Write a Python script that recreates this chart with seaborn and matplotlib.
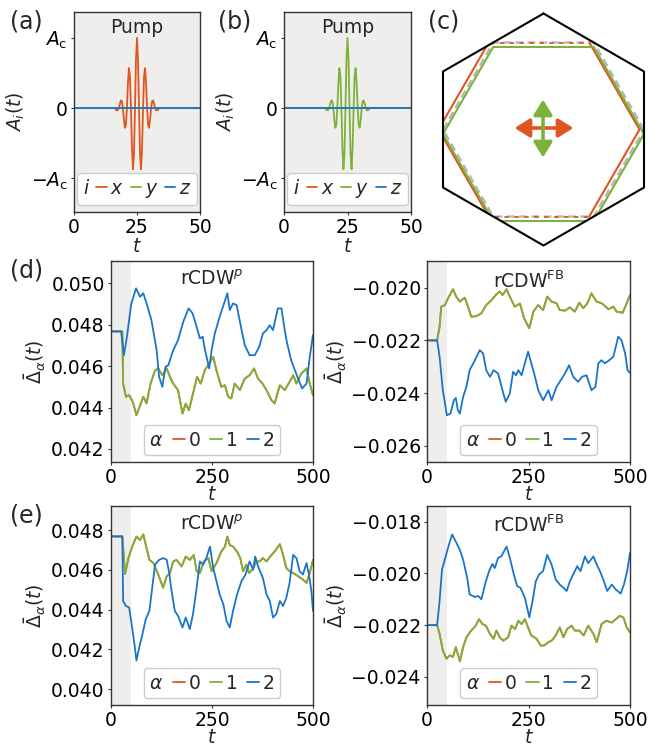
import numpy as np
import pandas as pd
import seaborn as sns
import matplotlib
matplotlib.use("Agg")
import matplotlib.pyplot as plt
from matplotlib.lines import Line2D
from matplotlib.patches import Polygon, FancyArrowPatch
from matplotlib.ticker import FuncFormatter

# ---------------- data ----------------
pump_t = [0, 16.2, 16.6, 17.0, 17.4, 17.8, 18.2, 18.6, 19.0, 19.4, 19.8, 20.2, 20.6, 21.0, 21.4,
          21.8, 22.2, 22.6, 23.0, 23.4, 23.8, 24.2, 24.6, 25.0, 25.4, 25.8, 26.2, 26.6, 27.0,
          27.4, 27.8, 28.2, 28.6, 29.0, 29.4, 29.8, 30.2, 30.6, 31.0, 31.4, 31.8, 32.2, 32.6,
          33.0, 33.4, 33.8, 50]
pump_v = [0, 0, -0.02, -0.03, -0.03, 0, 0.06, 0.11, 0.10, 0, -0.16, -0.28, -0.24, 0, 0.35,
          0.57, 0.46, 0, -0.57, -0.87, -0.65, 0, 0.70, 1.00, 0.70, 0, -0.65, -0.87, -0.57, 0,
          0.46, 0.57, 0.35, 0, -0.24, -0.28, -0.16, 0, 0.10, 0.11, 0.06, 0, -0.03, -0.03,
          -0.02, 0, 0]
zero_t = [0, 50]
zero_v = [0, 0]

# row (d), rCDW^p
dp_t_01 = [0, 28, 30, 37, 45, 54, 63, 72, 80, 88, 98, 109, 117, 127, 138, 146, 154, 166, 177, 185,
           193, 203, 213, 222, 232, 243, 253, 261, 273, 282, 290, 298, 306, 319, 331, 343, 354, 364,
           375, 385, 397, 405, 418, 430, 442, 451, 459, 471, 484, 492, 500]
dp_v_01 = [0.04768, 0.04768, 0.04516, 0.04452, 0.04460, 0.04427, 0.04363, 0.04411, 0.04452, 0.04420,
           0.04516, 0.04580, 0.04589, 0.04556, 0.04589, 0.04548, 0.04516, 0.04484, 0.04371, 0.04419,
           0.04387, 0.04468, 0.04548, 0.04516, 0.04580, 0.04613, 0.04645, 0.04580, 0.04500, 0.04508,
           0.04452, 0.04444, 0.04516, 0.04484, 0.04540, 0.04556, 0.04589, 0.04540, 0.04516, 0.04484,
           0.04436, 0.04420, 0.04508, 0.04484, 0.04524, 0.04556, 0.04516, 0.04564, 0.04589, 0.04516,
           0.04460]
dp_t_2 = [0, 25, 32, 40, 50, 62, 72, 80, 88, 100, 113, 119, 127, 135, 142, 154, 166, 179, 192, 202,
          212, 220, 227, 232, 243, 249, 257, 269, 288, 294, 302, 311, 320, 331, 343, 356, 367, 376,
          385, 393, 401, 413, 422, 430, 436, 446, 461, 473, 484, 492, 500]
dp_v_2 = [0.04768, 0.04768, 0.04653, 0.04750, 0.04900, 0.04976, 0.04935, 0.04952, 0.04903, 0.04823,
          0.04677, 0.04550, 0.04500, 0.04597, 0.04605, 0.04677, 0.04726, 0.04815, 0.04879, 0.04855,
          0.04790, 0.04734, 0.04742, 0.04685, 0.04589, 0.04677, 0.04758, 0.04839, 0.04952, 0.04871,
          0.04903, 0.04895, 0.04806, 0.04702, 0.04653, 0.04653, 0.04694, 0.04758, 0.04774, 0.04798,
          0.04774, 0.04879, 0.04879, 0.04774, 0.04710, 0.04629, 0.04550, 0.04492, 0.04516, 0.04645,
          0.04750]

# row (d), rCDW^FB
dfb_t_01 = [0, 25, 31, 35, 44, 52, 64, 72, 81, 93, 101, 109, 122, 134, 146, 159, 171, 179, 186, 196,
            204, 216, 229, 239, 252, 262, 274, 286, 296, 307, 319, 327, 340, 352, 364, 375, 385, 395,
            405, 418, 430, 447, 459, 467, 482, 492, 500]
dfb_v_01 = [-0.02200, -0.02200, -0.02148, -0.02072, -0.02066, -0.02040, -0.02006, -0.02034, -0.02053,
            -0.02038, -0.02072, -0.02110, -0.02108, -0.02097, -0.02066, -0.02047, -0.02025, -0.02015,
            -0.02028, -0.02006, -0.02034, -0.02072, -0.02060, -0.02116, -0.02154, -0.02091, -0.02066,
            -0.02085, -0.02034, -0.02053, -0.02059, -0.02085, -0.02087, -0.02075, -0.02091, -0.02057,
            -0.02078, -0.02059, -0.02022, -0.02053, -0.02059, -0.02082, -0.02072, -0.02091, -0.02095,
            -0.02059, -0.02028]
dfb_t_2 = [0, 25, 31, 39, 49, 58, 66, 71, 76, 81, 89, 97, 105, 118, 130, 138, 146, 155, 164, 175,
           188, 194, 204, 212, 219, 225, 233, 241, 249, 257, 266, 274, 286, 299, 307, 319, 327, 340,
           350, 360, 372, 382, 393, 405, 415, 422, 430, 438, 449, 459, 471, 479, 488, 494, 500]
dfb_v_2 = [-0.02200, -0.02200, -0.02262, -0.02389, -0.02484, -0.02477, -0.02427, -0.02418, -0.02465,
           -0.02477, -0.02414, -0.02376, -0.02313, -0.02275, -0.02237, -0.02249, -0.02313, -0.02338,
           -0.02313, -0.02325, -0.02401, -0.02433, -0.02401, -0.02319, -0.02332, -0.02313, -0.02332,
           -0.02287, -0.02243, -0.02287, -0.02338, -0.02389, -0.02427, -0.02389, -0.02427, -0.02376,
           -0.02357, -0.02325, -0.02294, -0.02338, -0.02357, -0.02338, -0.02332, -0.02389, -0.02376,
           -0.02287, -0.02275, -0.02287, -0.02275, -0.02262, -0.02186, -0.02199, -0.02249, -0.02313,
           -0.02323]

# row (e), rCDW^p
ep_t_01 = [0, 28, 35, 43, 54, 63, 72, 80, 88, 95, 105, 117, 129, 138, 146, 154, 162, 175, 185, 195,
           205, 212, 220, 230, 241, 249, 261, 273, 282, 288, 294, 302, 312, 320, 327, 335, 342, 350,
           360, 368, 376, 385, 394, 405, 418, 426, 434, 442, 451, 463, 475, 484, 492, 500]
ep_v_01 = [0.04768, 0.04768, 0.04579, 0.04659, 0.04725, 0.04767, 0.04750, 0.04778, 0.04709, 0.04651,
           0.04634, 0.04576, 0.04510, 0.04568, 0.04584, 0.04642, 0.04650, 0.04617, 0.04667, 0.04650,
           0.04675, 0.04593, 0.04584, 0.04642, 0.04659, 0.04593, 0.04634, 0.04692, 0.04717, 0.04767,
           0.04725, 0.04717, 0.04692, 0.04659, 0.04593, 0.04626, 0.04584, 0.04601, 0.04642, 0.04642,
           0.04659, 0.04642, 0.04667, 0.04692, 0.04729, 0.04675, 0.04609, 0.04593, 0.04584, 0.04568,
           0.04551, 0.04534, 0.04584, 0.04650]
ep_t_2 = [0, 28, 30, 37, 45, 51, 58, 63, 70, 78, 86, 95, 103, 109, 119, 129, 138, 144, 150, 158,
          166, 177, 185, 195, 203, 212, 220, 228, 236, 245, 253, 261, 269, 278, 286, 294, 302, 312,
          323, 333, 343, 352, 357, 364, 376, 385, 393, 401, 409, 418, 426, 434, 442, 451, 459, 467,
          475, 484, 490, 496, 500]
ep_v_2 = [0.04768, 0.04768, 0.04443, 0.04418, 0.04410, 0.04327, 0.04227, 0.04144, 0.04211, 0.04277,
          0.04352, 0.04393, 0.04526, 0.04626, 0.04650, 0.04659, 0.04650, 0.04584, 0.04493, 0.04393,
          0.04368, 0.04310, 0.04360, 0.04302, 0.04377, 0.04510, 0.04642, 0.04626, 0.04659, 0.04717,
          0.04609, 0.04543, 0.04476, 0.04427, 0.04343, 0.04310, 0.04393, 0.04476, 0.04543, 0.04576,
          0.04642, 0.04601, 0.04667, 0.04617, 0.04559, 0.04476, 0.04443, 0.04360, 0.04377, 0.04443,
          0.04418, 0.04460, 0.04534, 0.04675, 0.04659, 0.04593, 0.04576, 0.04634, 0.04576, 0.04493,
          0.04393]

# row (e), rCDW^FB
efb_t_01 = [0, 25, 31, 39, 48, 56, 64, 71, 81, 89, 97, 109, 120, 128, 137, 145, 155, 164, 171, 179,
            188, 200, 208, 217, 225, 233, 241, 249, 257, 270, 280, 288, 299, 307, 317, 327, 336, 345,
            356, 364, 375, 386, 397, 410, 418, 430, 442, 455, 465, 475, 484, 492, 500]
efb_v_01 = [-0.02200, -0.02200, -0.02234, -0.02298, -0.02330, -0.02317, -0.02323, -0.02285, -0.02340,
            -0.02285, -0.02247, -0.02221, -0.02202, -0.02177, -0.02196, -0.02202, -0.02234, -0.02253,
            -0.02221, -0.02247, -0.02260, -0.02247, -0.02202, -0.02215, -0.02183, -0.02196, -0.02177,
            -0.02209, -0.02240, -0.02253, -0.02279, -0.02279, -0.02266, -0.02260, -0.02240, -0.02209,
            -0.02247, -0.02215, -0.02202, -0.02221, -0.02221, -0.02240, -0.02202, -0.02234, -0.02266,
            -0.02196, -0.02183, -0.02190, -0.02177, -0.02164, -0.02171, -0.02209, -0.02228]
efb_t_2 = [0, 25, 31, 37, 46, 54, 62, 71, 81, 89, 99, 105, 118, 126, 134, 145, 153, 161, 167, 175,
           183, 196, 204, 214, 222, 230, 241, 252, 260, 268, 276, 286, 296, 307, 317, 327, 336, 344,
           352, 360, 370, 378, 389, 397, 410, 418, 426, 434, 444, 455, 465, 477, 485, 493, 500]
efb_v_2 = [-0.02200, -0.02200, -0.02106, -0.01985, -0.01934, -0.01889, -0.01849, -0.01877, -0.01909,
           -0.01947, -0.02017, -0.02081, -0.02091, -0.02087, -0.02100, -0.02030, -0.01991, -0.01963,
           -0.01979, -0.01940, -0.01934, -0.01896, -0.01940, -0.02004, -0.02049, -0.02055, -0.02094,
           -0.02170, -0.02106, -0.02030, -0.02004, -0.01991, -0.01928, -0.01966, -0.02023, -0.02043,
           -0.02055, -0.02068, -0.02030, -0.02004, -0.01972, -0.01991, -0.01934, -0.01960, -0.01934,
           -0.01966, -0.01991, -0.02023, -0.02068, -0.02043, -0.02062, -0.02078, -0.02043, -0.01991,
           -0.01921]

# hexagons for panel (c) (units of 100 px about BZ centre)
bz_x = [0, 1.005, 1.005, 0, -1.005, -1.005, 0]
bz_y = [1.16, 0.58, -0.58, -1.16, -0.58, 0.58, 1.16]
fs0_x = [1.005, 0.5025, -0.5025, -1.005, -0.5025, 0.5025, 1.005]
fs0_y = [0, 0.87, 0.87, 0, -0.87, -0.87, 0]
fsx_x = [0.96, 0.4575, -0.5475, -1.05, -0.5475, 0.4575, 0.96]
fsx_y = [0, 0.87, 0.87, 0, -0.87, -0.87, 0]
fsy_x = [1.005, 0.5025, -0.5025, -1.005, -0.5025, 0.5025, 1.005]
fsy_y = [-0.045, 0.825, 0.825, -0.045, -0.915, -0.915, -0.045]

pump_labels = ['$x$', '$y$', '$z$']
alpha_labels = ['0', '1', '2']
t_ticks_pump = [0, 25, 50]
t_ticks = [0, 250, 500]
yt_dp = [0.042, 0.044, 0.046, 0.048, 0.050]
yt_dfb = [-0.026, -0.024, -0.022, -0.020]
yt_ep = [0.040, 0.042, 0.044, 0.046, 0.048]
yt_efb = [-0.024, -0.022, -0.020, -0.018]

# ---------------- style ----------------
sns.set_style("ticks")
ORANGE = '#df5720'
GREEN = '#7cb23b'
BLUE = '#1a75c9'
SHADE = '#f0eded'
FS = 13.5
plt.rcParams['font.family'] = ['DejaVu Sans']
plt.rcParams.update({
    'axes.edgecolor': '#333333', 'axes.linewidth': 1.0,
    'xtick.color': '#333333', 'ytick.color': '#333333',
    'xtick.labelcolor': 'black', 'ytick.labelcolor': 'black',
    'xtick.major.size': 2.5, 'ytick.major.size': 2.5,
    'xtick.major.pad': 1.5, 'ytick.major.pad': 2.0,
    'mathtext.fontset': 'dejavusans',
})

W, H = 659, 748
fig = plt.figure(figsize=(W / 100, H / 100), dpi=100)


def box(l, t, r, b):
    return [l / W, 1 - b / H, (r - l) / W, (b - t) / H]


def line(ax, t, v, color):
    sns.lineplot(x=t, y=v, ax=ax, color=color, linewidth=1.3, estimator=None, errorbar=None)


def inline_legend(ax, title, labels, colors, hl, cs):
    handles = [Line2D([], [], color=c, lw=1.3) for c in colors]
    leg = ax.legend(handles, labels, title=title, ncol=len(labels), loc='lower center',
                    fontsize=FS, title_fontsize=FS, handlelength=hl, handletextpad=0.2,
                    columnspacing=cs, borderpad=0.3, borderaxespad=0.35, framealpha=1,
                    edgecolor='#cccccc')
    vp = leg._legend_box
    title_box, hbox = vp.get_children()
    vp._children = [hbox]
    hbox._children = [title_box] + hbox.get_children()
    return leg


umin = FuncFormatter(lambda v, p: ('%.3f' % v).replace('-', '\u2212'))

# ---------------- panels (a), (b) ----------------
for pos, lab in [(box(74, 12, 200, 212), 'x'), (box(284, 12, 411, 212), 'y')]:
    ax = fig.add_axes(pos)
    ax.set_facecolor(SHADE)
    if lab == 'x':
        line(ax, pump_t, pump_v, ORANGE)
        line(ax, zero_t, zero_v, GREEN)
    else:
        line(ax, zero_t, zero_v, ORANGE)
        line(ax, pump_t, pump_v, GREEN)
    line(ax, zero_t, zero_v, BLUE)
    ax.set_xlim(0, 50)
    ax.set_ylim(-1.48, 1.37)
    ax.set_xticks(t_ticks_pump)
    ax.set_yticks([-1, 0, 1])
    ax.set_yticklabels([r'$-A_{\rm c}$', '0', r'$A_{\rm c}$'])
    ax.tick_params(labelsize=FS)
    ax.set_xlabel('$t$', fontsize=FS, labelpad=0)
    ax.set_ylabel('$A_i(t)$', fontsize=FS, labelpad=3)
    ax.text(0.5, 0.97, 'Pump', transform=ax.transAxes, ha='center', va='top', fontsize=FS)
    inline_legend(ax, '$i$', pump_labels, [ORANGE, GREEN, BLUE], 0.55, 0.35)

# ---------------- panel (c) ----------------
axc = fig.add_axes(box(440, 10, 648, 250))
axc.set_xlim(-1.035, 1.045)
axc.set_ylim(-1.205, 1.195)
axc.axis('off')
clip = Polygon(np.column_stack([bz_x, bz_y]), closed=True, transform=axc.transData,
               facecolor='none', edgecolor='none')
axc.add_patch(clip)
axc.plot(fs0_x, fs0_y, color='#b4b4b4', lw=1.6, ls=(0, (3.5, 2)))
o_side1, = axc.plot(fsx_x[2:5], fsx_y[2:5], color=ORANGE, lw=1.5)
o_side2, = axc.plot(fsx_x[5:7] + fsx_x[1:2], fsx_y[5:7] + fsx_y[1:2], color=ORANGE, lw=1.5)
o_top, = axc.plot(fsx_x[1:3], fsx_y[1:3], color=ORANGE, lw=1.3, ls=(2.5, (2.5, 3)))
o_bot, = axc.plot(fsx_x[4:6], fsx_y[4:6], color=ORANGE, lw=1.3, ls=(2.5, (2.5, 3)))
g_line, = axc.plot(fsy_x, fsy_y, color=GREEN, lw=1.5)
for art in (o_side1, o_side2, o_top, o_bot, g_line):
    art.set_clip_path(clip)
axc.plot(bz_x, bz_y, color='black', lw=1.5)
arr_o = FancyArrowPatch((-0.29, 0.015), (0.30, 0.015),
                        arrowstyle='<|-|>,head_length=0.65,head_width=0.4',
                        mutation_scale=14, lw=2.6, color=ORANGE, shrinkA=0, shrinkB=0)
arr_g = FancyArrowPatch((-0.005, 0.30), (-0.005, -0.28),
                        arrowstyle='<|-|>,head_length=0.65,head_width=0.4',
                        mutation_scale=14, lw=2.6, color=GREEN, shrinkA=0, shrinkB=0)
axc.add_patch(arr_o)
axc.add_patch(arr_g)

# ---------------- panels (d), (e) ----------------
specs = [
    (box(111, 261, 313, 462), dp_t_01, dp_v_01, dp_t_2, dp_v_2, (0.04137, 0.05108), yt_dp, r'rCDW$^p$'),
    (box(427, 261, 630, 462), dfb_t_01, dfb_v_01, dfb_t_2, dfb_v_2, (-0.02661, -0.01899), yt_dfb, r'rCDW$^{\rm FB}$'),
    (box(111, 506, 313, 705), ep_t_01, ep_v_01, ep_t_2, ep_v_2, (0.0392, 0.04921), yt_ep, r'rCDW$^p$'),
    (box(427, 506, 630, 705), efb_t_01, efb_v_01, efb_t_2, efb_v_2, (-0.02509, -0.01739), yt_efb, r'rCDW$^{\rm FB}$'),
]
for pos, t01, v01, t2, v2, ylim, yt, title in specs:
    ax = fig.add_axes(pos)
    ax.axvspan(0, 50, color=SHADE, lw=0, zorder=0)
    line(ax, t01, v01, ORANGE)
    line(ax, t01, v01, GREEN)
    line(ax, t2, v2, BLUE)
    ax.set_xlim(0, 500)
    ax.set_ylim(*ylim)
    ax.set_xticks(t_ticks)
    ax.set_yticks(yt)
    ax.yaxis.set_major_formatter(umin)
    ax.tick_params(labelsize=FS)
    ax.set_xlabel('$t$', fontsize=FS, labelpad=-1)
    ax.set_ylabel(r'$\bar{\Delta}_\alpha(t)$', fontsize=FS, labelpad=2)
    ax.text(0.5, 0.955, title, transform=ax.transAxes, ha='center', va='top', fontsize=FS)
    inline_legend(ax, r'$\alpha$', alpha_labels, [ORANGE, GREEN, BLUE], 0.65, 0.5)

# panel labels
for x, y, s in [(10, 10, '(a)'), (218, 10, '(b)'), (428, 10, '(c)'), (10, 259, '(d)'), (10, 504, '(e)')]:
    fig.text(x / W, 1 - y / H, s, fontsize=17, ha='left', va='top')

fig.savefig('out.png', dpi=100)
